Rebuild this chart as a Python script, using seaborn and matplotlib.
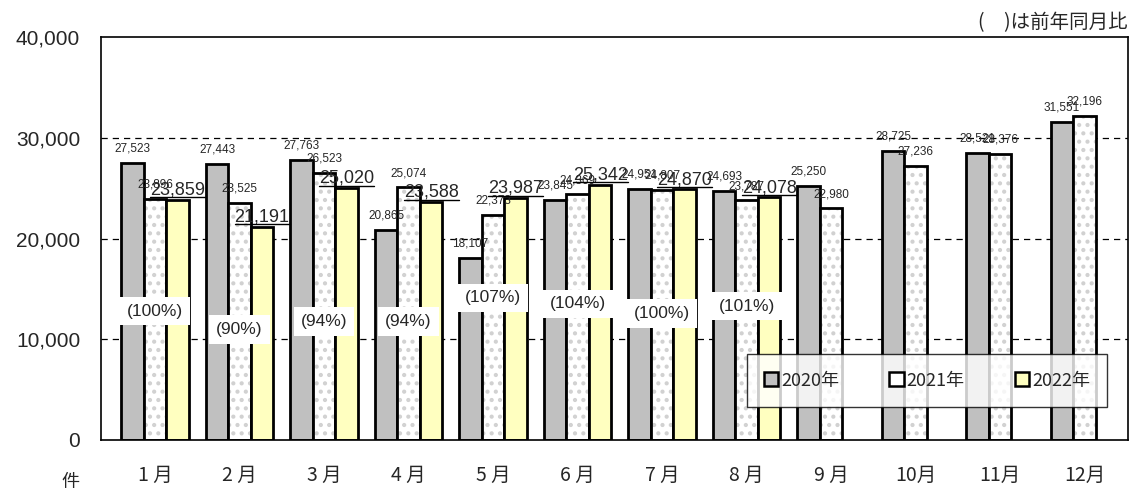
import matplotlib
matplotlib.use('Agg')
import matplotlib.pyplot as plt
from matplotlib.lines import Line2D
from matplotlib.ticker import FuncFormatter
import seaborn as sns
import pandas as pd
import numpy as np

months = ['1 月', '2 月', '3 月', '4 月', '5 月', '6 月', '7 月', '8 月', '9 月', '10月', '11月', '12月']
years = ['2020年', '2021年', '2022年']
y2020 = [27523, 27443, 27763, 20865, 18107, 23845, 24951, 24693, 25250, 28725, 28521, 31551]
y2021 = [23896, 23525, 26523, 25074, 22373, 24369, 24807, 23787, 22980, 27236, 28376, 32196]
y2022 = [23859, 21191, 25020, 23588, 23987, 25342, 24870, 24078]
ratio = [100, 90, 94, 94, 107, 104, 100, 101]
# heights of the ratio boxes (in data units)
ratio_pos = [12800, 11000, 11800, 11800, 14100, 13500, 12600, 13300]

rows = []
for yr, vals in zip(years, [y2020, y2021, y2022]):
    for m, v in zip(months, vals):
        rows.append({'month': m, 'year': yr, 'count': v})
df = pd.DataFrame(rows)

sns.set_style('white')
plt.rcParams['font.family'] = ['Noto Sans CJK JP', 'DejaVu Sans']
plt.rcParams['hatch.linewidth'] = 1.8

num_font = ['Liberation Sans', 'DejaVu Sans']

fig = plt.figure(figsize=(11.31, 4.97), dpi=100)
ax = fig.add_axes([0.0893, 0.1147, 0.9077, 0.8108])

pal = {'2020年': '#c0c0c0', '2021年': '#ffffff', '2022年': '#ffffc0'}
sns.barplot(data=df, x='month', y='count', hue='year', order=months, hue_order=years,
            palette=pal, saturation=1, edgecolor='black', linewidth=2, width=0.8,
            ax=ax, legend=True)

for p in ax.containers[1]:
    p.set_hatch('..')
    if hasattr(p, 'set_hatchcolor'):
        p.set_hatchcolor('#d0d0d0')
    else:
        p._hatch_color = (0.82, 0.82, 0.82, 1)

ax.set_ylim(0, 40000)
ax.set_xlim(-0.64, 11.51)
ax.set_yticks([0, 10000, 20000, 30000, 40000])
ax.yaxis.set_major_formatter(FuncFormatter(lambda v, _: f'{int(v):,}'))
for lab in ax.get_yticklabels():
    lab.set_fontfamily(num_font)
    lab.set_fontsize(15)
ax.tick_params(axis='y', length=0, pad=15)
ax.tick_params(axis='x', length=0, pad=18, labelsize=14)
for y in [10000, 20000, 30000]:
    ax.axhline(y, color='black', lw=0.9, ls=(0, (5, 4)), zorder=0.5)
for s in ax.spines.values():
    s.set_color('black')
    s.set_linewidth(1.2)
ax.set_xlabel('')
ax.set_ylabel('')

for i, vals in [(0, y2020), (1, y2021)]:
    ax.bar_label(ax.containers[i], labels=[f'{v:,}' for v in vals], padding=6,
                 fontsize=8.5, family=num_font)
big = ax.bar_label(ax.containers[2], labels=[f'{v:,}' for v in y2022], padding=1,
                   fontsize=13, family=num_font)

for i, (r, pos) in enumerate(zip(ratio, ratio_pos)):
    ax.text(i, pos, f'({r}%)', ha='center', va='center', fontsize=12.5,
            family=num_font, bbox=dict(fc='white', ec='none', pad=5), zorder=5)

leg = ax.legend(loc='lower left', bbox_to_anchor=(0.62, 0.06, 0.369, 0.126), mode='expand',
                ncol=3, frameon=True, fancybox=False, fontsize=13, handlelength=0.8,
                handleheight=0.8, handletextpad=0.15, borderpad=0.95, edgecolor='black')
leg.get_frame().set_linewidth(1.0)
for h in leg.legend_handles:
    h.set_linewidth(1.8)

fig.text(0.997, 0.955, '(　)は前年同月比', ha='right', va='center', fontsize=14)
fig.text(0.062, 0.03, '件', ha='center', va='center', fontsize=13)

fig.canvas.draw()
r = fig.canvas.get_renderer()
inv = fig.transFigure.inverted()
for t in big:
    bb = t.get_window_extent(r)
    (x0, y0), (x1, _) = inv.transform([(bb.x0, bb.y0 + 1), (bb.x1, bb.y0 + 1)])
    fig.add_artist(Line2D([x0, x1], [y0, y0], color='black', lw=1.0))

fig.savefig('out.png', dpi=100)
